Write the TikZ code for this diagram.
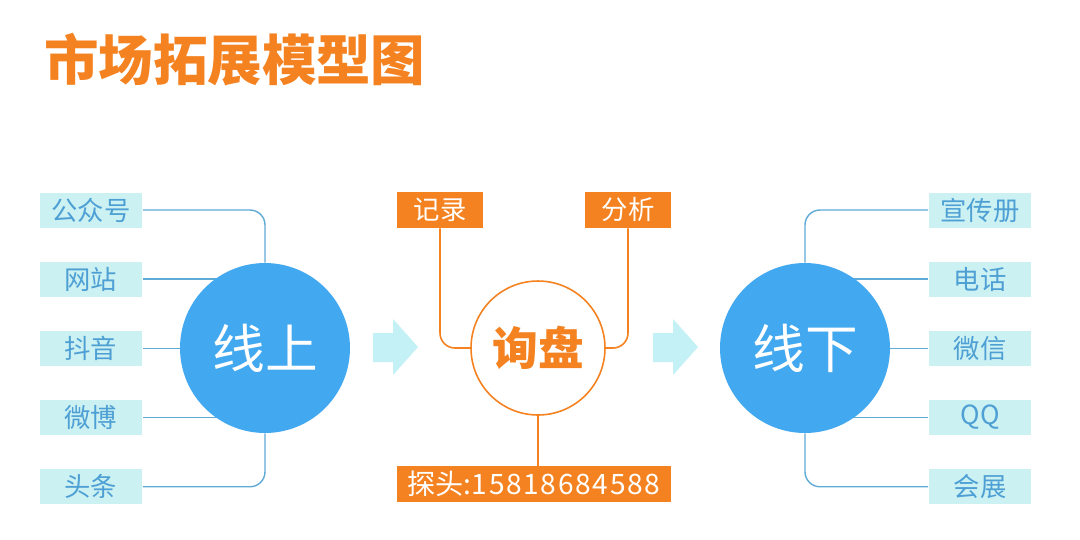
\documentclass[tikz,border=0pt]{standalone}
\usepackage{fontspec}
\setmainfont{Noto Sans CJK SC}
\usepackage{tikz}
\usetikzlibrary{positioning, calc, backgrounds}
\definecolor{mkorange}{RGB}{245,130,32}
\definecolor{mkblue}{RGB}{66,168,240}
\definecolor{mkcyan}{RGB}{204,241,243}
\definecolor{mktext}{RGB}{78,160,212}
\definecolor{mkline}{RGB}{96,170,214}
\definecolor{mkarrow}{RGB}{196,241,245}

\begin{document}
\begin{tikzpicture}[x=0.02cm, y=-0.02cm,
  srcbox/.style={rectangle, fill=mkcyan, text=mktext, minimum width=2.06cm, minimum height=0.7cm, inner sep=0pt, font=\fontsize{15}{15}\selectfont},
  hub/.style={circle, fill=mkblue, text=white, minimum size=3.4cm, inner sep=0pt, font=\fontsize{30}{30}\selectfont},
  opbox/.style={rectangle, fill=mkorange, text=white, minimum height=0.72cm, inner sep=0pt, font=\fontsize{15}{15}\selectfont},
  core/.style={circle, draw=mkorange, line width=0.9pt, fill=white, text=mkorange, minimum size=2.68cm, inner sep=0pt, font=\fontsize{26}{26}\selectfont\bfseries},
  bline/.style={draw=mkline, line width=0.8pt, rounded corners=0.3cm},
  oline/.style={draw=mkorange, line width=0.9pt, rounded corners=0.3cm},
  flow/.style={fill=mkarrow}
]
\useasboundingbox (0,0) rectangle (1080,539);
% title
\node[anchor=west, text=mkorange, font=\fontsize{31}{31}\selectfont\bfseries] (title) at (38,60) {市场拓展模型图};
% online channels
\node[hub] (up) at (265,348) {线上};
\node[srcbox] (gzh) at (91,210) {公众号};
\node[srcbox, below=0.67cm of gzh] (wz) {网站};
\node[srcbox, below=0.67cm of wz] (dy) {抖音};
\node[srcbox, below=0.67cm of dy] (wb) {微博};
\node[srcbox, below=0.67cm of wb] (tt) {头条};
% inquiry
\node[core] (xp) at (538,348) {询盘};
\node[opbox, minimum width=1.74cm] (jl) at (440,210) {记录};
\node[opbox, minimum width=1.74cm] (fx) at (628,210) {分析};
\node[opbox, minimum width=5.5cm, font=\fontsize{16}{16}\selectfont] (tel) at (534,484) {探头:\addfontfeatures{LetterSpace=6}15818684588};
% offline channels
\node[hub] (down) at (805,348) {线下};
\node[srcbox] (xcc) at (980,210) {宣传册};
\node[srcbox, below=0.67cm of xcc] (dh) {电话};
\node[srcbox, below=0.67cm of dh] (wx) {微信};
\node[srcbox, below=0.67cm of wx] (qq) {QQ};
\node[srcbox, below=0.67cm of qq] (hz) {会展};
% connectors
\begin{scope}[on background layer]
\fill[white] (0,0) rectangle (1080,539);
\draw[bline] (gzh.east) -| (up.north);
\draw[bline] (wz.east) -- (wz.east -| up.center);
\draw[bline] (dy.east) -- (dy.east -| up.center);
\draw[bline] (wb.east) -- (wb.east -| up.center);
\draw[bline] (tt.east) -| (up.south);
\draw[bline] (xcc.west) -| (down.north);
\draw[bline] (dh.west) -- (dh.west -| down.center);
\draw[bline] (wx.west) -- (wx.west -| down.center);
\draw[bline] (qq.west) -- (qq.west -| down.center);
\draw[bline] (hz.west) -| (down.south);
\end{scope}
\draw[oline] (jl.south) |- (xp.west);
\draw[oline] (fx.south) |- (xp.east);
\draw[oline] (xp.south) -- (xp.south |- tel.north);
% flow arrows
\foreach \dx in {0,280}
  \fill[flow, xshift=\dx*0.02cm] (373,333) -- (393,333) -- (393,319) -- (418,347) -- (393,375) -- (393,362) -- (373,362) -- cycle;
\end{tikzpicture}
\end{document}
